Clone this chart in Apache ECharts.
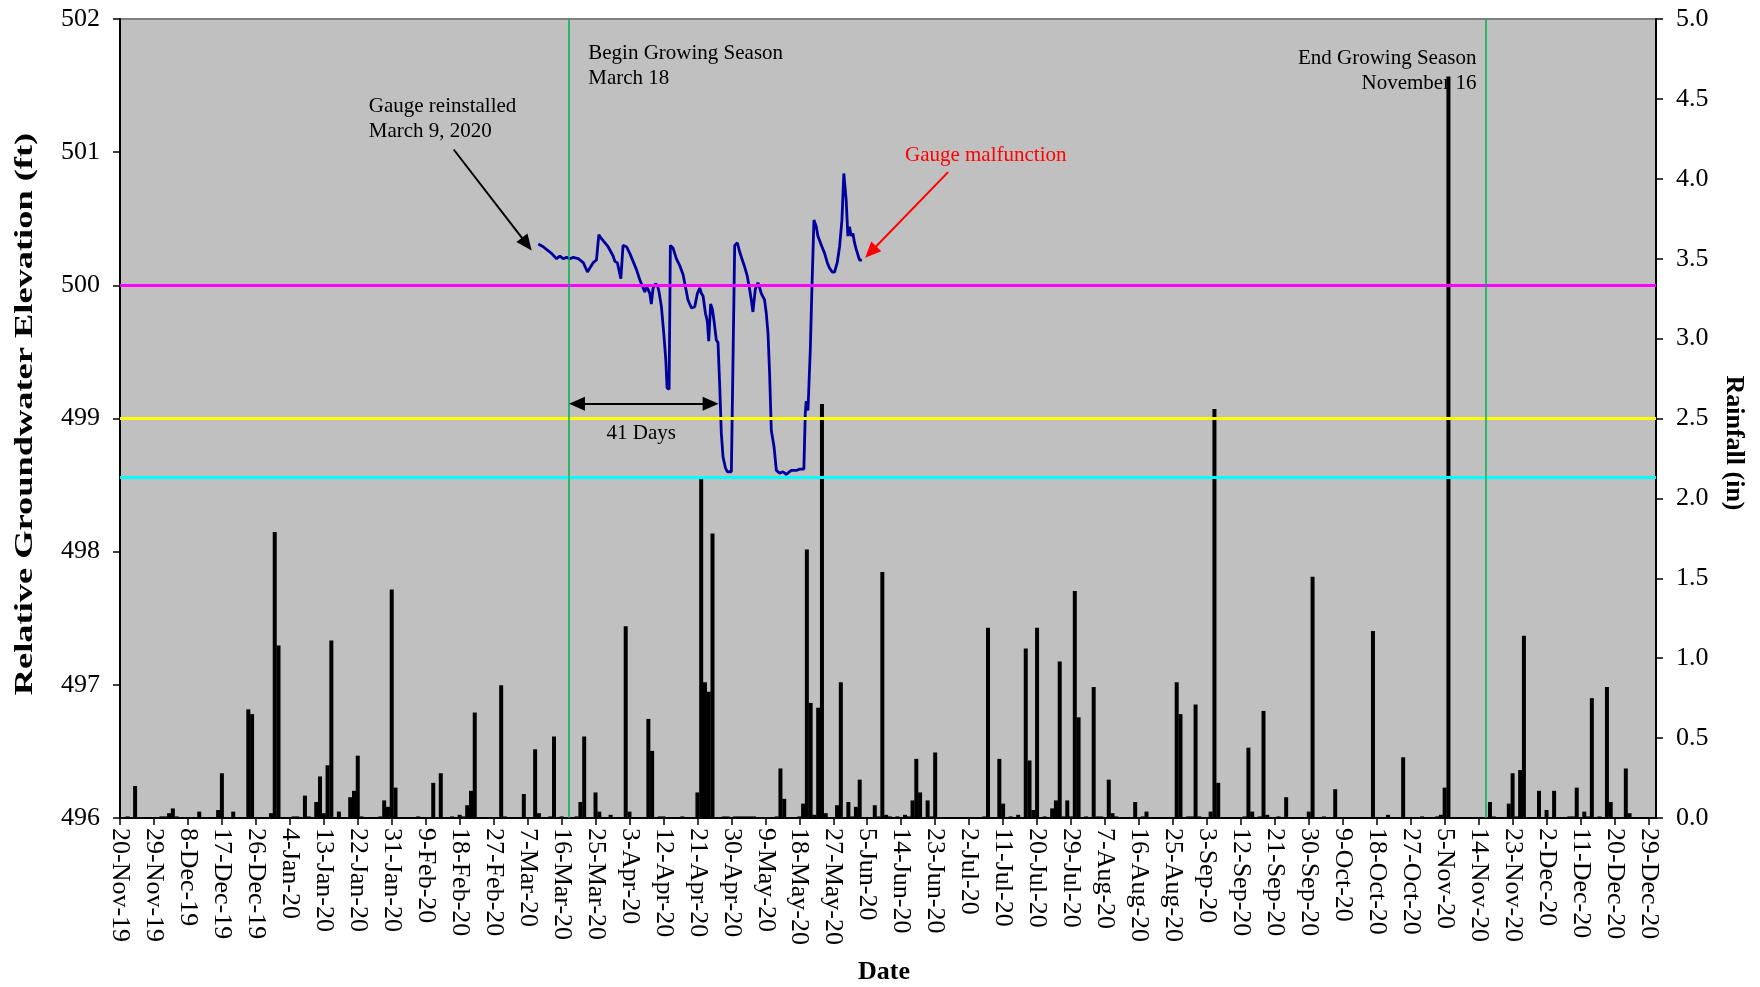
<!DOCTYPE html>
<html>
<head>
<meta charset="utf-8">
<title>Relative Groundwater Elevation and Rainfall</title>
<script src="https://cdn.jsdelivr.net/npm/echarts@6.0.0/dist/echarts.min.js"></script>
<style>
  html, body { margin: 0; padding: 0; background: #fff; }
  #chart { width: 1760px; height: 987px; }
</style>
</head>
<body>
<div id="chart"></div>
<script>
// date axis runs from startDate (day 0) to endDate, a tick every 9 days
const startDate = '2019-11-20';
const endDate = '2020-12-31';
const tickDays = 9;

// gauge readings (ft)
const levelTimes = [
  '2020-03-09 20:00', '2020-03-11 03:00', '2020-03-12 00:00', '2020-03-12 11:00', '2020-03-13 08:00', '2020-03-14 16:00', '2020-03-15 13:00', '2020-03-16 10:00', '2020-03-17 08:00', '2020-03-18 05:00',
  '2020-03-19 02:00', '2020-03-20 10:00', '2020-03-21 18:00', '2020-03-22 21:00', '2020-03-23 12:00', '2020-03-24 09:00', '2020-03-25 06:00', '2020-03-25 21:00', '2020-03-26 14:00', '2020-03-28 08:00',
  '2020-03-29 16:00', '2020-03-30 03:00', '2020-03-30 19:00', '2020-03-31 17:00', '2020-04-01 07:00', '2020-04-02 05:00', '2020-04-03 02:00', '2020-04-03 23:00', '2020-04-04 20:00', '2020-04-05 18:00',
  '2020-04-06 15:00', '2020-04-07 01:00', '2020-04-07 12:00', '2020-04-07 22:00', '2020-04-08 09:00', '2020-04-08 19:00', '2020-04-09 06:00', '2020-04-09 21:00', '2020-04-10 10:00', '2020-04-10 20:00',
  '2020-04-11 11:00', '2020-04-12 02:00', '2020-04-12 15:00', '2020-04-12 23:00', '2020-04-13 12:00', '2020-04-13 20:00', '2020-04-14 13:00', '2020-04-15 10:00', '2020-04-16 07:00', '2020-04-17 05:00',
  '2020-04-17 15:00', '2020-04-18 12:00', '2020-04-19 10:00', '2020-04-20 07:00', '2020-04-21 00:00', '2020-04-21 15:00', '2020-04-22 01:00', '2020-04-22 12:00', '2020-04-23 03:00', '2020-04-23 15:00',
  '2020-04-24 00:00', '2020-04-24 12:00', '2020-04-24 23:00', '2020-04-25 10:00', '2020-04-26 00:00', '2020-04-26 11:00', '2020-04-26 22:00', '2020-04-27 08:00', '2020-04-27 19:00', '2020-04-28 10:00',
  '2020-04-28 22:00', '2020-04-30 00:00', '2020-04-30 10:00', '2020-04-30 21:00', '2020-05-01 14:00', '2020-05-02 05:00', '2020-05-02 19:00', '2020-05-03 12:00', '2020-05-04 05:00', '2020-05-04 20:00',
  '2020-05-05 07:00', '2020-05-05 17:00', '2020-05-06 08:00', '2020-05-07 01:00', '2020-05-07 12:00', '2020-05-07 22:00', '2020-05-08 19:00', '2020-05-09 06:00', '2020-05-09 17:00', '2020-05-10 03:00',
  '2020-05-10 14:00', '2020-05-11 07:00', '2020-05-11 22:00', '2020-05-12 19:00', '2020-05-13 16:00', '2020-05-14 13:00', '2020-05-15 21:00', '2020-05-17 05:00', '2020-05-18 02:00', '2020-05-19 05:00',
  '2020-05-19 14:00', '2020-05-19 20:00', '2020-05-20 07:00', '2020-05-20 22:00', '2020-05-21 08:00', '2020-05-21 21:00', '2020-05-22 12:00', '2020-05-22 22:00', '2020-05-23 09:00', '2020-05-24 00:00',
  '2020-05-24 17:00', '2020-05-25 10:00', '2020-05-26 00:00', '2020-05-26 17:00', '2020-05-27 08:00', '2020-05-28 01:00', '2020-05-28 16:00', '2020-05-29 07:00', '2020-05-29 19:00', '2020-05-30 10:00',
  '2020-05-30 21:00', '2020-05-31 07:00', '2020-05-31 18:00', '2020-06-01 05:00', '2020-06-01 15:00', '2020-06-02 02:00', '2020-06-02 12:00', '2020-06-02 23:00', '2020-06-03 14:00'
];
const levelValues = [
  500.31, 500.29, 500.27, 500.28, 500.24, 500.20, 500.22, 500.20, 500.21, 500.20,
  500.21, 500.20, 500.17, 500.10, 500.13, 500.17, 500.19, 500.38, 500.35, 500.29,
  500.22, 500.18, 500.17, 500.05, 500.30, 500.29, 500.24, 500.18, 500.12, 500.04,
  499.98, 499.95, 499.99, 499.97, 499.94, 499.86, 499.98, 500.01, 500.00, 499.95,
  499.84, 499.64, 499.44, 499.23, 499.22, 500.30, 500.28, 500.20, 500.15, 500.08,
  500.02, 499.89, 499.83, 499.84, 499.94, 499.98, 499.94, 499.92, 499.79, 499.73,
  499.58, 499.86, 499.82, 499.73, 499.59, 499.57, 499.24, 498.89, 498.71, 498.63,
  498.60, 498.60, 498.60, 500.30, 500.32, 500.25, 500.20, 500.14, 500.07, 499.97,
  499.89, 499.80, 499.97, 500.02, 499.98, 499.94, 499.89, 499.79, 499.64, 499.34,
  498.91, 498.79, 498.61, 498.59, 498.60, 498.58, 498.61, 498.61, 498.62, 498.62,
  499.04, 499.13, 499.06, 499.52, 499.97, 500.49, 500.44, 500.37, 500.38, 500.29,
  500.24, 500.17, 500.13, 500.10, 500.10, 500.17, 500.29, 500.49, 500.84, 500.64,
  500.37, 500.44, 500.37, 500.39, 500.32, 500.27, 500.28, 500.19, 500.19
];

// daily rainfall (in), days without rain left out
const rainDates = [
  '2019-11-22', '2019-11-24', '2019-12-01', '2019-12-02', '2019-12-03', '2019-12-04', '2019-12-05', '2019-12-11', '2019-12-16', '2019-12-17',
  '2019-12-20', '2019-12-24', '2019-12-25', '2019-12-30', '2019-12-31', '2020-01-01', '2020-01-05', '2020-01-06', '2020-01-08', '2020-01-09',
  '2020-01-11', '2020-01-12', '2020-01-13', '2020-01-14', '2020-01-15', '2020-01-17', '2020-01-20', '2020-01-21', '2020-01-22', '2020-01-23',
  '2020-01-28', '2020-01-29', '2020-01-30', '2020-01-31', '2020-02-01', '2020-02-07', '2020-02-11', '2020-02-13', '2020-02-16', '2020-02-18',
  '2020-02-19', '2020-02-20', '2020-02-21', '2020-02-22', '2020-02-29', '2020-03-01', '2020-03-06', '2020-03-09', '2020-03-10', '2020-03-13',
  '2020-03-14', '2020-03-16', '2020-03-20', '2020-03-21', '2020-03-22', '2020-03-25', '2020-03-26', '2020-03-29', '2020-04-02', '2020-04-03',
  '2020-04-08', '2020-04-09', '2020-04-11', '2020-04-12', '2020-04-17', '2020-04-21', '2020-04-22', '2020-04-23', '2020-04-24', '2020-04-25',
  '2020-04-28', '2020-04-29', '2020-05-01', '2020-05-02', '2020-05-03', '2020-05-04', '2020-05-05', '2020-05-06', '2020-05-12', '2020-05-13',
  '2020-05-14', '2020-05-18', '2020-05-19', '2020-05-20', '2020-05-21', '2020-05-22', '2020-05-23', '2020-05-24', '2020-05-25', '2020-05-28',
  '2020-05-29', '2020-05-31', '2020-06-01', '2020-06-02', '2020-06-03', '2020-06-07', '2020-06-08', '2020-06-09', '2020-06-10', '2020-06-11',
  '2020-06-13', '2020-06-15', '2020-06-16', '2020-06-17', '2020-06-18', '2020-06-19', '2020-06-21', '2020-06-22', '2020-06-23', '2020-07-06',
  '2020-07-07', '2020-07-10', '2020-07-11', '2020-07-13', '2020-07-15', '2020-07-17', '2020-07-18', '2020-07-19', '2020-07-20', '2020-07-22',
  '2020-07-24', '2020-07-25', '2020-07-26', '2020-07-27', '2020-07-28', '2020-07-29', '2020-07-30', '2020-07-31', '2020-08-02', '2020-08-04',
  '2020-08-05', '2020-08-06', '2020-08-08', '2020-08-09', '2020-08-10', '2020-08-15', '2020-08-17', '2020-08-18', '2020-08-26', '2020-08-27',
  '2020-08-29', '2020-08-30', '2020-08-31', '2020-09-01', '2020-09-04', '2020-09-05', '2020-09-06', '2020-09-13', '2020-09-14', '2020-09-15',
  '2020-09-17', '2020-09-18', '2020-09-19', '2020-09-22', '2020-09-24', '2020-09-30', '2020-10-01', '2020-10-04', '2020-10-07', '2020-10-17',
  '2020-10-21', '2020-10-25', '2020-10-30', '2020-11-03', '2020-11-04', '2020-11-05', '2020-11-06', '2020-11-17', '2020-11-18', '2020-11-22',
  '2020-11-23', '2020-11-24', '2020-11-25', '2020-11-26', '2020-11-30', '2020-12-02', '2020-12-04', '2020-12-08', '2020-12-09', '2020-12-10',
  '2020-12-12', '2020-12-13', '2020-12-14', '2020-12-16', '2020-12-18', '2020-12-19', '2020-12-23', '2020-12-24'
];
const rainInches = [
  0.01, 0.20, 0.01, 0.01, 0.03, 0.06, 0.01, 0.04, 0.05, 0.28,
  0.04, 0.68, 0.65, 0.03, 1.79, 1.08, 0.01, 0.01, 0.14, 0.01,
  0.10, 0.26, 0.03, 0.33, 1.11, 0.04, 0.13, 0.17, 0.39, 0.01,
  0.01, 0.11, 0.07, 1.43, 0.19, 0.01, 0.22, 0.28, 0.01, 0.02,
  0.01, 0.08, 0.17, 0.66, 0.83, 0.01, 0.15, 0.43, 0.03, 0.01,
  0.51, 0.01, 0.01, 0.10, 0.51, 0.16, 0.04, 0.02, 1.20, 0.04,
  0.62, 0.42, 0.01, 0.01, 0.01, 0.16, 2.12, 0.85, 0.79, 1.78,
  0.01, 0.01, 0.01, 0.01, 0.01, 0.01, 0.01, 0.01, 0.01, 0.31,
  0.12, 0.01, 0.09, 1.68, 0.72, 0.02, 0.69, 2.59, 0.03, 0.08,
  0.85, 0.10, 0.01, 0.07, 0.24, 0.08, 0.01, 1.54, 0.02, 0.01,
  0.01, 0.02, 0.01, 0.11, 0.37, 0.16, 0.11, 0.01, 0.41, 0.01,
  1.19, 0.37, 0.09, 0.01, 0.02, 1.06, 0.36, 0.05, 1.19, 0.01,
  0.06, 0.11, 0.98, 0.01, 0.11, 0.01, 1.42, 0.63, 0.01, 0.82,
  0.01, 0.01, 0.24, 0.03, 0.01, 0.10, 0.01, 0.04, 0.85, 0.65,
  0.01, 0.01, 0.71, 0.01, 0.04, 2.56, 0.22, 0.01, 0.44, 0.04,
  0.01, 0.67, 0.02, 0.01, 0.13, 0.04, 1.51, 0.01, 0.18, 1.17,
  0.02, 0.38, 0.01, 0.01, 0.02, 0.19, 4.64, 0.10, 0.01, 0.09,
  0.28, 0.01, 0.30, 1.14, 0.17, 0.05, 0.17, 0.01, 0.01, 0.19,
  0.04, 0.01, 0.75, 0.01, 0.82, 0.10, 0.31, 0.03
];

// reference levels (ft) and growing season limits
const refLevels = [500, 499, 498.56];
const seasonDates = ['2020-03-18', '2020-11-16'];

const FONT = '"Liberation Serif", "Times New Roman", serif';
const MONTHS = ['Jan', 'Feb', 'Mar', 'Apr', 'May', 'Jun', 'Jul', 'Aug', 'Sep', 'Oct', 'Nov', 'Dec'];

// 'YYYY-MM-DD[ HH:mm]' -> days after startDate
const dayOf = (s) => {
    const [d, t] = s.split(' ');
    const ymd = d.split('-').map(Number);
    const s0 = startDate.split('-').map(Number);
    const hours = t ? Number(t.split(':')[0]) : 0;
    return (Date.UTC(ymd[0], ymd[1] - 1, ymd[2]) - Date.UTC(s0[0], s0[1] - 1, s0[2])) / 864e5 + hours / 24;
};

const dateLabel = (v) => {
    if (v % tickDays !== 0) return '';
    const s0 = startDate.split('-').map(Number);
    const d = new Date(Date.UTC(s0[0], s0[1] - 1, s0[2]) + v * 864e5);
    return d.getUTCDate() + '-' + MONTHS[d.getUTCMonth()] + '-' + String(d.getUTCFullYear()).slice(2);
};

const levelData = levelTimes.map((t, i) => [dayOf(t), levelValues[i]]);
const rainData = rainDates.map((t, i) => [dayOf(t), rainInches[i]]);

const refColors = ['#ff00ff', '#ffff00', '#00ffff'];
const refLines = refLevels.map((v, i) => ({
    yAxis: v,
    lineStyle: { color: refColors[i], width: 3, type: 'solid' }
}));
const seasonLines = seasonDates.map((d) => ({
    xAxis: dayOf(d),
    lineStyle: { color: '#00b050', width: 1.5, type: 'solid' }
}));

// annotation arrows (from -> to, in date / ft); the triangle heads are centred on the ends
const arrow = (from, to, color, bothEnds) => {
    const style = { color: color, width: 2, type: 'solid' };
    return [
        { coord: [dayOf(from[0]), from[1]], symbol: bothEnds ? 'triangle' : 'none', symbolSize: [14, 16], lineStyle: style },
        { coord: [dayOf(to[0]), to[1]], symbol: 'triangle', symbolSize: [14, 16], lineStyle: style }
    ];
};
const arrows = [
    arrow(['2020-02-16 10:00', 501.02], ['2020-03-06 19:00', 500.31], '#000'),
    arrow(['2020-06-26 10:00', 500.85], ['2020-06-05 22:00', 500.25], '#ff0000'),
    arrow(['2020-03-20 02:00', 499.11], ['2020-04-24 12:00', 499.11], '#000', true)
];

const axisFont = { fontFamily: FONT, fontSize: 26, color: '#000' };

const chart = echarts.init(document.getElementById('chart'));
const option = {
    animation: false,
    backgroundColor: '#fff',
    grid: {
        left: 120, right: 104, top: 19, bottom: 169,
        show: true, backgroundColor: '#c0c0c0', borderColor: '#808080', borderWidth: 2
    },
    xAxis: {
        type: 'value',
        min: 0,
        max: dayOf(endDate),
        interval: tickDays,
        axisLine: { show: true, lineStyle: { color: '#000', width: 2 } },
        axisTick: { show: true, length: 7, lineStyle: { color: '#000', width: 1.5 } },
        axisLabel: Object.assign({ rotate: -90, margin: 10, formatter: dateLabel, showMaxLabel: false }, axisFont),
        splitLine: { show: false }
    },
    yAxis: [
        {
            type: 'value',
            min: 496, max: 502, interval: 1,
            axisLine: { show: true, lineStyle: { color: '#000', width: 2 } },
            axisTick: { show: true, length: 7, lineStyle: { color: '#000', width: 1.5 } },
            axisLabel: Object.assign({ margin: 20 }, axisFont),
            splitLine: { show: false }
        },
        {
            type: 'value',
            position: 'right',
            min: 0, max: 5, interval: 0.5,
            axisLine: { show: true, lineStyle: { color: '#000', width: 2 } },
            axisTick: { show: true, length: 7, lineStyle: { color: '#000', width: 1.5 } },
            axisLabel: Object.assign({ margin: 20, formatter: (v) => v.toFixed(1) }, axisFont),
            splitLine: { show: false }
        }
    ],
    series: [
        {
            name: 'Groundwater',
            type: 'line',
            yAxisIndex: 0,
            data: levelData,
            showSymbol: false,
            lineStyle: { color: '#00009c', width: 2.8 },
            z: 3,
            markLine: {
                silent: true,
                symbol: 'none',
                label: { show: false },
                emphasis: { disabled: true },
                animation: false,
                data: refLines.concat(seasonLines, arrows)
            }
        },
        {
            name: 'Rainfall',
            type: 'bar',
            yAxisIndex: 1,
            data: rainData,
            barWidth: 4,
            itemStyle: { color: '#000' },
            z: 4
        }
    ]
};
chart.setOption(option);

// text notes, placed at date / ft positions
const notes = [
    { text: 'Gauge reinstalled\nMarch 9, 2020', at: ['2020-01-24 22:00', 501.44], align: 'left', color: '#000' },
    { text: 'Begin Growing Season\nMarch 18', at: ['2020-03-23 02:00', 501.835], align: 'left', color: '#000' },
    { text: 'End Growing Season\nNovember 16', at: ['2020-11-13 10:00', 501.80], align: 'right', color: '#000' },
    { text: 'Gauge malfunction', at: ['2020-06-15 00:00', 501.067], align: 'left', color: '#ff0000' },
    { text: '41 Days', at: ['2020-03-27 22:00', 498.98], align: 'left', color: '#000' }
];
const graphics = notes.map((n) => {
    const p = chart.convertToPixel({ xAxisIndex: 0, yAxisIndex: 0 }, [dayOf(n.at[0]), n.at[1]]);
    return {
        type: 'text', x: p[0], y: p[1], z: 10,
        style: {
            text: n.text, fill: n.color, font: '21px ' + FONT, lineHeight: 25,
            textAlign: n.align, textVerticalAlign: 'top'
        }
    };
});
// axis titles
graphics.push(
    {
        type: 'text', x: 25, y: 414, rotation: Math.PI / 2, scaleX: 1.4,
        style: { text: 'Relative Groundwater Elevation (ft)', fill: '#000', font: 'bold 26px ' + FONT, textAlign: 'center', textVerticalAlign: 'middle' }
    },
    {
        type: 'text', x: 1734, y: 443, rotation: -Math.PI / 2,
        style: { text: 'Rainfall (in)', fill: '#000', font: 'bold 26px ' + FONT, textAlign: 'center', textVerticalAlign: 'middle' }
    },
    {
        type: 'text', x: 884, y: 972,
        style: { text: 'Date', fill: '#000', font: 'bold 26px ' + FONT, textAlign: 'center', textVerticalAlign: 'middle' }
    }
);
chart.setOption({ graphic: graphics });
</script>
</body>
</html>
